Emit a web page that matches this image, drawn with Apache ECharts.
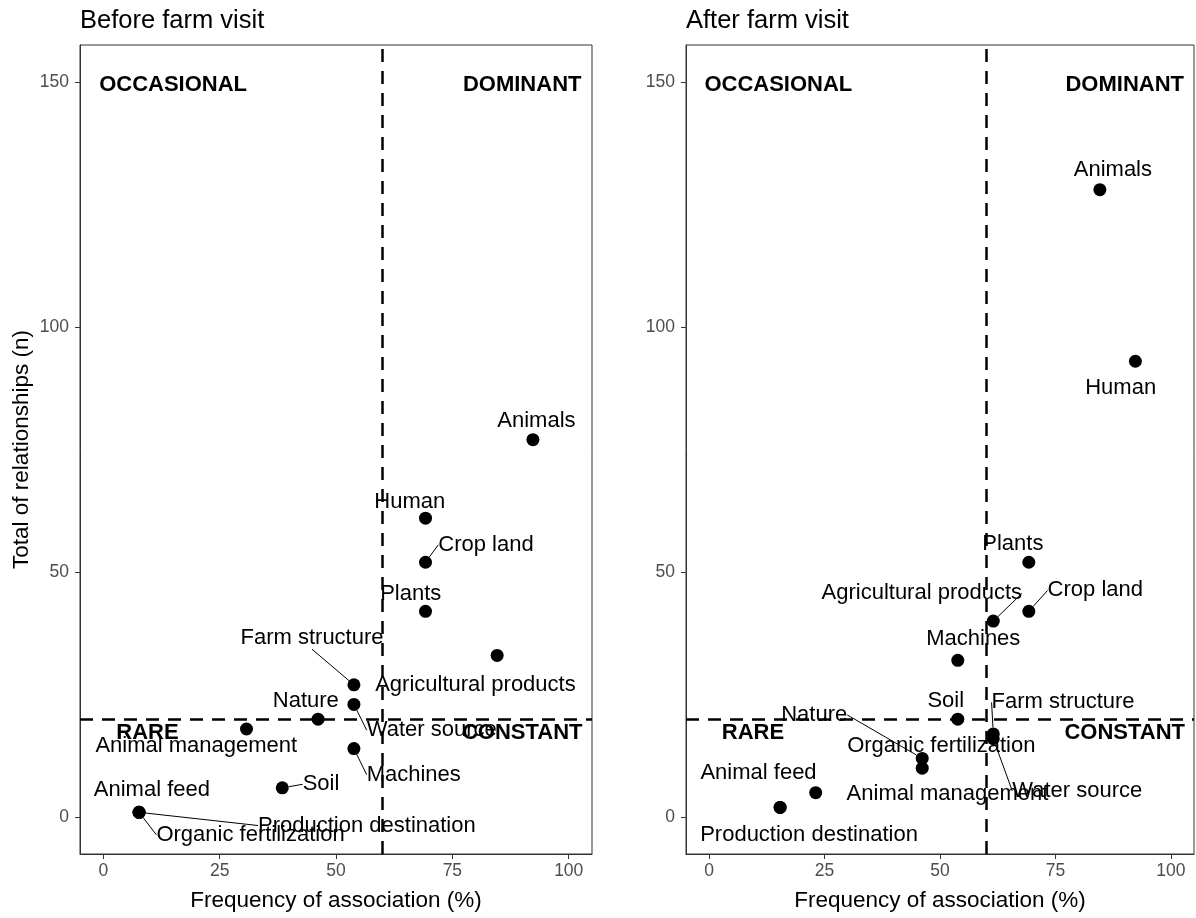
<!DOCTYPE html>
<html><head><meta charset="utf-8">
<script src="https://cdn.jsdelivr.net/npm/echarts@6/dist/echarts.min.js"></script>
<style>html,body{margin:0;padding:0;background:#fff}#c{width:1196px;height:918px}</style>
</head><body><div id="c"></div>
<script>
// ---------- data ----------
const panelTitles = ['Before farm visit', 'After farm visit'];
const xAxisTitle = 'Frequency of association (%)';
const yAxisTitle = 'Total of relationships (n)';
const xTicks = [0, 25, 50, 75, 100];
const yTicks = [0, 50, 100, 150];
const thresholdX = 60;
const thresholdY = 20;
const quadrantNames = ['OCCASIONAL', 'DOMINANT', 'RARE', 'CONSTANT'];
const quadrantX = [15, 90, 9.5, 90];
const quadrantY = [149.4, 149.4, 17.1, 17.1];

const beforeNames = ['Animals', 'Human', 'Crop land', 'Plants', 'Agricultural products', 'Farm structure', 'Water source', 'Nature', 'Animal management', 'Machines', 'Soil', 'Animal feed', 'Organic fertilization', 'Production destination'];
const beforeX = [92.31, 69.23, 69.23, 69.23, 84.62, 53.85, 53.85, 46.15, 30.77, 53.85, 38.46, 7.69, 7.69, 7.69];
const beforeY = [77, 61, 52, 42, 33, 27, 23, 20, 18, 14, 6, 1, 1, 1];

const afterNames = ['Animals', 'Human', 'Plants', 'Crop land', 'Agricultural products', 'Machines', 'Soil', 'Farm structure', 'Water source', 'Nature', 'Organic fertilization', 'Animal management', 'Animal feed', 'Production destination'];
const afterX = [84.62, 92.31, 69.23, 69.23, 61.54, 53.85, 53.85, 61.54, 61.54, 46.15, 46.15, 23.08, 15.38, 15.38];
const afterY = [128, 93, 52, 42, 40, 32, 20, 17, 16, 12, 10, 5, 2, 2];

// ---------- label layout (repel-like offsets in px, with leader line flag) ----------
const LABEL_DY = 1.5;
const beforeLabelLayout = {
  'Animals': [3.5, -20.7, false],
  'Human': [-15.7, -18, false],
  'Crop land': [60.5, -19, true],
  'Plants': [-14.8, -19.3, false],
  'Agricultural products': [-21.7, 28, false],
  'Farm structure': [-41.9, -48.1, true],
  'Water source': [77.8, 24.3, true],
  'Nature': [-12.3, -20, false],
  'Animal management': [-50.2, 15.3, false],
  'Machines': [59.8, 24.6, true],
  'Soil': [38.7, -5, true],
  'Animal feed': [12.8, -24, false],
  'Organic fertilization': [111.5, 21, true],
  'Production destination': [227.8, 11.7, true]
};
const afterLabelLayout = {
  'Animals': [13, -21.7, false],
  'Human': [-14.7, 25, false],
  'Plants': [-16, -20, false],
  'Crop land': [66.5, -22.4, true],
  'Agricultural products': [-71.5, -29.3, true],
  'Machines': [15.5, -22.4, false],
  'Soil': [-12, -20, false],
  'Farm structure': [69.8, -33, true],
  'Water source': [84, 50.7, true],
  'Nature': [-108, -45, true],
  'Organic fertilization': [19.1, -23.3, false],
  'Animal management': [131.8, 0, false],
  'Animal feed': [-21.6, -36, false],
  'Production destination': [28.9, 25.6, false]
};

const FONT = '"Liberation Sans", Arial, sans-serif';

function makeXAxis(gi) {
  return {
    gridIndex: gi, type: 'value', min: -5, max: 105,
    splitLine: { show: false },
    axisLine: { show: true, onZero: false, lineStyle: { color: '#333', width: 1 } },
    axisTick: { show: true, length: 5, customValues: xTicks, lineStyle: { color: '#333', width: 1 } },
    axisLabel: { customValues: xTicks, color: '#4D4D4D', fontSize: 17.5, margin: 8, fontFamily: FONT },
    name: xAxisTitle, nameLocation: 'middle', nameGap: 35,
    nameTextStyle: { fontSize: 22.5, color: '#000', fontFamily: FONT }
  };
}
function makeYAxis(gi, withName) {
  return {
    gridIndex: gi, type: 'value', min: -7.5, max: 157.5,
    splitLine: { show: false },
    axisLine: { show: true, onZero: false, lineStyle: { color: '#333', width: 1 } },
    axisTick: { show: true, length: 5, customValues: yTicks, lineStyle: { color: '#333', width: 1 } },
    axisLabel: { customValues: yTicks, color: '#4D4D4D', fontSize: 17.5, margin: 11, fontFamily: FONT },
    name: withName ? yAxisTitle : '', nameLocation: 'middle', nameGap: 47, nameRotate: 90,
    nameTextStyle: { fontSize: 22.5, color: '#000', fontFamily: FONT }
  };
}

function pointSeries(gi, names, xs, ys, layout) {
  const data = names.map((n, i) => ({
    name: n,
    value: [xs[i], ys[i]],
    labelLine: { show: !!layout[n][2] }
  }));
  return {
    type: 'scatter', xAxisIndex: gi, yAxisIndex: gi,
    symbol: 'circle', symbolSize: 13,
    itemStyle: { color: '#000', opacity: 1 },
    z: 3,
    label: { show: true, formatter: '{b}', position: 'inside', fontSize: 22, color: '#000', fontFamily: FONT },
    labelLine: { show: false, lineStyle: { color: '#000', width: 1 } },
    labelLayout: function (p) {
      const o = layout[names[p.dataIndex]];
      return { dx: o[0], dy: o[1] + LABEL_DY };
    },
    emphasis: { disabled: true },
    data: data,
    markLine: {
      silent: true, symbol: ['none', 'none'], label: { show: false },
      lineStyle: { type: [13, 9], color: '#000', width: 2.5 },
      data: [{ xAxis: thresholdX }, { yAxis: thresholdY }],
      animation: false
    }
  };
}
function quadrantSeries(gi) {
  return {
    type: 'scatter', xAxisIndex: gi, yAxisIndex: gi,
    symbolSize: 1, itemStyle: { color: 'rgba(0,0,0,0)' }, z: 10,
    label: { show: true, formatter: '{b}', position: 'inside', fontSize: 22, fontWeight: 'bold', color: '#000', opacity: 1, fontFamily: FONT },
    emphasis: { disabled: true }, silent: true,
    data: quadrantNames.map((n, i) => ({ name: n, value: [quadrantX[i], quadrantY[i]] }))
  };
}

const chart = echarts.init(document.getElementById('c'), null, { renderer: 'canvas' });
chart.setOption({
  animation: false,
  backgroundColor: '#fff',
  textStyle: { fontFamily: FONT },
  title: [
    { text: panelTitles[0], left: 80, top: 8, padding: 0, textStyle: { fontSize: 25.5, fontWeight: 'normal', color: '#000', fontFamily: FONT } },
    { text: panelTitles[1], left: 686, top: 8, padding: 0, textStyle: { fontSize: 25.5, fontWeight: 'normal', color: '#000', fontFamily: FONT } }
  ],
  grid: [
    { left: 80, top: 45, width: 512, height: 809, show: true, borderColor: '#333', borderWidth: 1, backgroundColor: 'transparent' },
    { left: 686, top: 45, width: 508, height: 809, show: true, borderColor: '#333', borderWidth: 1, backgroundColor: 'transparent' }
  ],
  xAxis: [makeXAxis(0), makeXAxis(1)],
  yAxis: [makeYAxis(0, true), makeYAxis(1, false)],
  series: [
    pointSeries(0, beforeNames, beforeX, beforeY, beforeLabelLayout),
    pointSeries(1, afterNames, afterX, afterY, afterLabelLayout),
    quadrantSeries(0),
    quadrantSeries(1)
  ]
});
</script></body></html>
